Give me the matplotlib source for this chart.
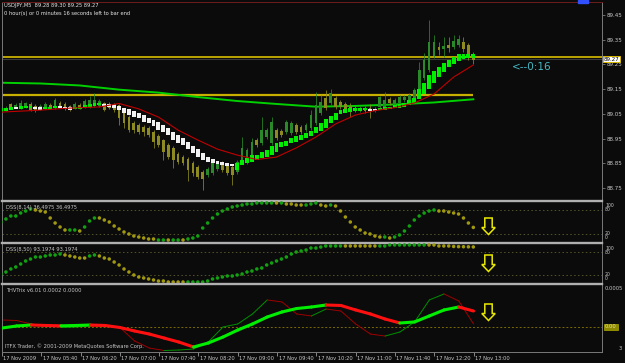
import numpy as np
import matplotlib.pyplot as plt
from matplotlib import font_manager
from matplotlib.collections import LineCollection
from matplotlib.patches import Polygon, Rectangle
from matplotlib.transforms import blended_transform_factory

# ---------------- data ----------------
header_quote = 'USDJPY,M5  89.28 89.30 89.25 89.27'
header_timer = '0 hour(s) or 0 minutes 16 seconds left to bar end'

time_labels = ['17 Nov 2009', '17 Nov 05:40', '17 Nov 06:20', '17 Nov 07:00', '17 Nov 07:40',
               '17 Nov 08:20', '17 Nov 09:00', '17 Nov 09:40', '17 Nov 10:20', '17 Nov 11:00',
               '17 Nov 11:40', '17 Nov 12:20', '17 Nov 13:00']
time_label_bars = [0, 8, 16, 24, 32, 40, 48, 56, 64, 72, 80, 88, 96]
price_ticks = [88.75, 88.85, 88.95, 89.05, 89.15, 89.25, 89.35, 89.45]

open_ = [89.065, 89.065, 89.090, 89.077, 89.073, 89.077, 89.090, 89.082, 89.069, 89.073,
         89.086, 89.073, 89.094, 89.090, 89.082, 89.073, 89.086, 89.077, 89.077, 89.082,
         89.082, 89.094, 89.090, 89.090, 89.086, 89.057, 89.037, 89.013, 89.005, 88.997,
         88.993, 88.976, 88.960, 88.944, 88.924, 88.912, 88.887, 88.875, 88.867, 88.851,
         88.835, 88.814, 88.802, 88.810, 88.827, 88.851, 88.843, 88.835, 88.814, 88.863,
         88.855, 88.875, 88.944, 88.932, 88.956, 88.932, 88.984, 88.980, 88.976, 88.972,
         89.005, 88.997, 88.984, 88.993, 89.013, 89.053, 89.114, 89.094, 89.114, 89.098,
         89.090, 89.077, 89.073, 89.065, 89.073, 89.073, 89.065, 89.077, 89.077, 89.110,
         89.086, 89.094, 89.106, 89.106, 89.114, 89.150, 89.195, 89.227, 89.284, 89.320,
         89.312, 89.329, 89.320, 89.329, 89.341, 89.329, 89.280]
high = [89.106, 89.080, 89.095, 89.092, 89.106, 89.100, 89.096, 89.088, 89.088, 89.096,
        89.092, 89.114, 89.102, 89.096, 89.086, 89.096, 89.092, 89.110, 89.122, 89.134,
        89.110, 89.100, 89.096, 89.094, 89.090, 89.061, 89.045, 89.020, 89.012, 89.003,
        89.000, 88.984, 88.968, 88.950, 88.932, 88.920, 88.895, 88.883, 88.875, 88.860,
        88.843, 88.822, 88.835, 88.860, 88.857, 88.857, 88.850, 88.843, 88.863, 88.956,
        88.912, 88.952, 88.952, 89.037, 88.992, 89.037, 88.992, 88.988, 89.025, 89.020,
        89.012, 89.005, 89.012, 89.065, 89.138, 89.126, 89.146, 89.150, 89.122, 89.106,
        89.098, 89.094, 89.082, 89.082, 89.080, 89.090, 89.077, 89.122, 89.138, 89.118,
        89.114, 89.126, 89.126, 89.134, 89.155, 89.260, 89.296, 89.430, 89.369, 89.341,
        89.361, 89.361, 89.369, 89.369, 89.361, 89.337, 89.300]
low = [89.057, 89.060, 89.068, 89.072, 89.070, 89.073, 89.060, 89.058, 89.064, 89.068,
       89.068, 89.069, 89.073, 89.064, 89.062, 89.068, 89.069, 89.073, 89.073, 89.077,
       89.077, 89.060, 89.068, 89.057, 89.005, 88.993, 88.976, 88.972, 88.968, 88.960,
       88.956, 88.912, 88.916, 88.863, 88.867, 88.830, 88.847, 88.843, 88.778, 88.800,
       88.786, 88.742, 88.794, 88.802, 88.820, 88.815, 88.802, 88.762, 88.806, 88.855,
       88.847, 88.867, 88.916, 88.924, 88.948, 88.924, 88.944, 88.956, 88.968, 88.964,
       88.968, 88.968, 88.976, 88.986, 89.005, 89.045, 89.065, 89.086, 89.069, 89.069,
       89.061, 89.037, 89.057, 89.057, 89.053, 89.033, 89.057, 89.069, 89.069, 89.086,
       89.080, 89.086, 89.100, 89.098, 89.106, 89.142, 89.187, 89.220, 89.276, 89.288,
       89.280, 89.300, 89.312, 89.320, 89.300, 89.268, 89.250]
close = [89.090, 89.073, 89.073, 89.086, 89.094, 89.094, 89.065, 89.065, 89.082, 89.090,
         89.073, 89.106, 89.077, 89.069, 89.069, 89.090, 89.073, 89.102, 89.106, 89.106,
         89.102, 89.065, 89.073, 89.065, 89.033, 89.013, 88.984, 88.984, 88.976, 88.976,
         88.964, 88.936, 88.924, 88.895, 88.875, 88.863, 88.855, 88.851, 88.822, 88.810,
         88.794, 88.786, 88.827, 88.851, 88.851, 88.822, 88.810, 88.802, 88.855, 88.912,
         88.903, 88.936, 88.924, 88.984, 88.984, 89.017, 88.952, 88.964, 89.017, 89.013,
         88.976, 88.976, 89.005, 89.045, 89.086, 89.098, 89.073, 89.134, 89.077, 89.077,
         89.069, 89.065, 89.065, 89.073, 89.061, 89.065, 89.069, 89.118, 89.106, 89.094,
         89.106, 89.118, 89.118, 89.126, 89.146, 89.227, 89.268, 89.341, 89.341, 89.308,
         89.325, 89.316, 89.345, 89.353, 89.312, 89.284, 89.270]

ha_open = [89.057, 89.061, 89.065, 89.078, 89.069, 89.073, 89.074, 89.078, 89.076, 89.069,
           89.070, 89.073, 89.082, 89.078, 89.076, 89.069, 89.070, 89.073, 89.078, 89.082,
           89.086, 89.090, 89.088, 89.084, 89.082, 89.073, 89.069, 89.061, 89.053, 89.045,
           89.033, 89.025, 89.017, 89.005, 88.993, 88.976, 88.964, 88.952, 88.936, 88.920,
           88.907, 88.891, 88.875, 88.867, 88.859, 88.855, 88.851, 88.847, 88.822, 88.843,
           88.851, 88.855, 88.863, 88.871, 88.875, 88.883, 88.895, 88.916, 88.920, 88.932,
           88.936, 88.944, 88.952, 88.960, 88.972, 88.980, 88.993, 89.013, 89.025, 89.049,
           89.053, 89.057, 89.061, 89.061, 89.065, 89.069, 89.069, 89.065, 89.065, 89.069,
           89.073, 89.073, 89.078, 89.086, 89.094, 89.110, 89.130, 89.150, 89.175, 89.199,
           89.219, 89.239, 89.252, 89.264, 89.272, 89.276, 89.276]
ha_close = [89.073, 89.073, 89.078, 89.069, 89.082, 89.082, 89.082, 89.069, 89.065, 89.078,
            89.078, 89.082, 89.073, 89.069, 89.065, 89.078, 89.078, 89.086, 89.090, 89.094,
            89.094, 89.082, 89.078, 89.073, 89.065, 89.053, 89.045, 89.037, 89.033, 89.017,
            89.013, 89.001, 88.984, 88.976, 88.964, 88.944, 88.932, 88.924, 88.907, 88.891,
            88.875, 88.863, 88.855, 88.851, 88.847, 88.843, 88.839, 88.839, 88.851, 88.863,
            88.871, 88.883, 88.883, 88.895, 88.903, 88.920, 88.932, 88.936, 88.940, 88.952,
            88.960, 88.964, 88.972, 88.980, 88.997, 89.013, 89.029, 89.041, 89.053, 89.065,
            89.069, 89.073, 89.073, 89.073, 89.073, 89.061, 89.061, 89.073, 89.078, 89.078,
            89.086, 89.090, 89.094, 89.106, 89.114, 89.150, 89.175, 89.207, 89.223, 89.239,
            89.256, 89.268, 89.280, 89.292, 89.292, 89.292, 89.292]

ma_red_bars = list(range(0, 97, 4))
ma_red = [89.057, 89.061, 89.065, 89.071, 89.075, 89.078, 89.092, 89.070, 89.037, 88.984,
          88.944, 88.907, 88.883, 88.865, 88.875, 88.912, 88.956, 89.009, 89.045, 89.063,
          89.075, 89.094, 89.130, 89.199, 89.248]
ma_green_bars = list(range(0, 97, 8))
ma_green = [89.176, 89.173, 89.165, 89.148, 89.136, 89.118, 89.102, 89.090, 89.079, 89.082,
            89.088, 89.096, 89.109]
level_upper = 89.281
level_lower = 89.126
bid_price = 89.272
bid_label = '89.27'
timer_text = '<--0:16'

dss1 = [50, 57.5, 65, 65, 72.5, 77.5, 82.5, 80, 77.5, 75,
        60, 47.5, 37.5, 30, 30, 30, 27.5, 37.5, 52.5, 60,
        60, 55, 50, 40, 32.5, 25, 20, 15, 12.5, 10,
        7.5, 7.5, 5, 5, 5, 5, 5, 5, 7.5, 10,
        15, 35, 47.5, 60, 70, 77.5, 82.5, 87.5, 90, 92.5,
        95, 95, 97.5, 97.5, 97.5, 97.5, 97.5, 97.5, 95, 95,
        92.5, 92.5, 92.5, 95, 97.5, 92.5, 90, 92.5, 90, 77.5,
        62.5, 50, 37.5, 30, 22.5, 20, 15, 12.5, 12.5, 10,
        12.5, 17.5, 27.5, 40, 55, 65, 72.5, 77.5, 80, 77.5,
        77.5, 75, 72.5, 70, 60, 47.5, 36.5]
dss1_state = ('g' * 7 + 'o' * 7 + 'g' * 2 + 'o' + 'g' * 3 + 'o' * 12 + 'g' * 2 + 'o' + 'g' * 2 + 'o'
              + 'g' * 18 + 'o' + 'g' + 'o' * 4 + 'g' * 3 + 'o' * 2 + 'g' + 'o' * 10 + 'g' + 'o'
              + 'g' * 9 + 'o' * 8)
dss2 = [22.6, 27.8, 35.7, 40.9, 48.7, 56.5, 61.7, 67.0, 67.0, 69.6,
        72.2, 72.2, 74.8, 72.2, 69.6, 67.0, 64.3, 64.3, 69.6, 72.2,
        69.6, 64.3, 61.7, 53.9, 46.1, 35.7, 27.8, 20.0, 14.8, 12.2,
        9.6, 7.0, 4.3, 4.3, 1.7, 1.7, 1.7, 1.7, 1.7, 1.7,
        1.7, 1.7, 4.3, 9.6, 12.2, 14.8, 17.4, 17.4, 20.0, 22.6,
        27.8, 30.4, 35.7, 38.3, 46.1, 51.3, 56.5, 61.7, 67.0, 74.8,
        80.0, 82.6, 85.2, 90.4, 90.4, 93.0, 95.7, 95.7, 95.7, 95.7,
        95.7, 95.7, 95.7, 95.7, 95.7, 95.7, 95.7, 95.7, 95.7, 98.3,
        98.3, 98.3, 98.3, 98.3, 98.3, 98.3, 98.3, 98.3, 98.3, 95.7,
        95.7, 95.7, 94.5, 94.0, 93.8, 93.5, 93.2]
dss2_state = ('g' * 13 + 'o' * 5 + 'g' * 2 + 'o' * 18 + 'g' * 32 + 'o' * 7 + 'g' * 10 + 'o' * 10)

thv_bars = list(range(0, 97, 3))
thv_main = [-0.13, 0.13, 0.25, 0.19, 0.15, 0.19, 0.25, 0.19, -0.06, -0.50, -0.88, -1.38,
            -1.88, -2.50, -2.00, -1.25, -0.38, 0.38, 1.25, 1.88, 2.31, 2.50, 2.75, 2.69,
            2.13, 1.63, 1.00, 0.50, 0.63, 1.38, 2.13, 2.50, 2.00]
thv_signal = [0.88, 0.81, 0.38, 0.13, -0.06, 0.00, 0.13, 0.13, -0.06, -1.75, -2.63, -2.94,
              -2.88, -2.75, -1.88, 0.00, 0.38, 1.63, 3.38, 3.13, 1.63, 1.38, 2.25, 2.00,
              0.38, -0.88, -1.13, -0.63, 0.63, 3.38, 4.13, 3.25, 0.38]

# ---------------- style ----------------
W, H = 625, 363
BG = '#0b0b0b'
TXT = '#c8c8c8'
names = {f.name for f in font_manager.fontManager.ttflist}
small_font = 'Liberation Sans Narrow' if 'Liberation Sans Narrow' in names else 'DejaVu Sans'
FS = 4.3 if small_font != 'DejaVu Sans' else 3.7
plt.rcParams['font.family'] = small_font


def box(x0, y0, x1, y1):
    return [x0 / W, 1 - y1 / H, (x1 - x0) / W, (y1 - y0) / H]


def ftext(x, y, s, **kw):
    fig.text(x / W, 1 - y / H, s, **kw)


fig = plt.figure(figsize=(W / 100, H / 100), dpi=100, facecolor=BG)

ax_main = fig.add_axes(box(2, 2, 602, 201))
ax_d1 = fig.add_axes(box(2, 201, 602, 243))
ax_d2 = fig.add_axes(box(2, 243, 602, 284))
ax_t = fig.add_axes(box(2, 284, 602, 352))
axes = [ax_main, ax_d1, ax_d2, ax_t]

xlim = ((2 - 1) / 4.92, (602 - 1) / 4.92)
for ax in axes:
    ax.set_facecolor(BG)
    ax.set_xlim(*xlim)
    ax.set_xticks([])
    ax.set_yticks([])
    for s in ax.spines.values():
        s.set_color('#7a7a7a')
        s.set_linewidth(0.7)
    ax.spines['bottom'].set_visible(False)
for ax in axes[1:]:
    ax.spines['top'].set_color('#b0b0b0')
    ax.spines['top'].set_linewidth(1.7)
ax_main.spines['top'].set_color('#6e1c1c')
ax_t.spines['bottom'].set_visible(True)

x = np.arange(len(close))
o = np.array(open_); c = np.array(close); h = np.array(high); l = np.array(low)

# ---- main chart ----
up = c >= o
cand_col = np.where(up, '#2a8a2a', '#8c8a20')
ax_main.vlines(x, l, h, colors=cand_col, linewidth=0.55, zorder=2)
ax_main.bar(x, np.maximum(np.abs(c - o), 0.002), bottom=np.minimum(o, c), width=0.55,
            color=cand_col, linewidth=0, zorder=2)

hao = np.array(ha_open); hac = np.array(ha_close)
ha_col = np.where(hac >= hao, '#00ee00', '#f2f2f2')
ax_main.bar(x, np.maximum(np.abs(hac - hao), 0.003), bottom=np.minimum(hao, hac), width=0.8,
            color=ha_col, linewidth=0, zorder=3)

ax_main.plot(ma_red_bars, ma_red, color='#c00000', lw=0.8, zorder=4)
ax_main.plot(ma_green_bars, ma_green, color='#00d000', lw=1.4, zorder=1.8)
ax_main.axhline(level_upper, color='#c8b000', lw=1.3, zorder=1.5)
ax_main.hlines(level_lower, xlim[0], x[-1], color='#c8b000', lw=1.6, zorder=1.5)
ax_main.axhline(bid_price, color='#3a3a3a', lw=0.8, zorder=1.2)
ax_main.set_ylim(88.697, 89.503)

ax_main.yaxis.tick_right()
ax_main.set_yticks(price_ticks)
ax_main.set_yticklabels(['%.2f' % p for p in price_ticks])
ax_main.tick_params(axis='y', colors='#7a7a7a', labelcolor=TXT, labelsize=FS + 0.3, length=2,
                    width=0.6, pad=1.5)
ax_main.text(1.003, bid_price, bid_label, transform=blended_transform_factory(ax_main.transAxes, ax_main.transData),
             fontsize=FS + 0.3, color='black', va='center', ha='left', zorder=10, clip_on=False,
             bbox=dict(boxstyle='square,pad=0.12', fc='white', ec='#d8b800', lw=0.7))

ax_main.text(512 / 600 - 2 / 600, 1 - (67 - 2) / 199, timer_text, transform=ax_main.transAxes,
             color='#44b8c4', fontsize=7.5, family='DejaVu Sans', va='center', ha='left')
ftext(4, 6, header_quote, color='#e6e6e6', fontsize=FS, va='center')
ftext(4, 14, header_timer, color='#e6e6e6', fontsize=FS, va='center')
fig.patches.append(Rectangle((578 / W, 1 - 3 / H), 10 / W, 3 / H, transform=fig.transFigure,
                             color='#3050ff', zorder=5))

# ---- DSS panels ----
pal = {'g': '#12a012', 'o': '#a09810'}
for ax, vals, state, lim, name in [
        (ax_d1, dss1, dss1_state, (-2.5, 102.5), 'DSS(8,14) 36.4975 36.4975'),
        (ax_d2, dss2, dss2_state, (-3.5, 103.5), 'DSS(8,50) 93.1974 93.1974')]:
    ax.set_ylim(*lim)
    for lev in (80, 20):
        ax.axhline(lev, color='#55552a', lw=0.7, ls=(0, (1.5, 2.5)), zorder=1)
    ax.scatter(x, vals, s=6.5, c=[pal[k] for k in state], linewidths=0, zorder=3)
    ax.text(4 / 600, 1 - 6 / 41, name, transform=ax.transAxes, color=TXT, fontsize=FS, va='center')

for y0, top_lab, bot_lab in [(201, 206, 237.5), (243, 248, 279)]:
    ftext(605, top_lab, '100', color=TXT, fontsize=FS - 0.4, va='center')
    ftext(605, top_lab + 4, '80', color=TXT, fontsize=FS - 0.4, va='center')
    ftext(605, bot_lab - 4, '20', color=TXT, fontsize=FS - 0.4, va='center')
    ftext(605, bot_lab, '0', color=TXT, fontsize=FS - 0.4, va='center')

# ---- THV Trix panel ----
ax_t.set_ylim(-3.125e-4, 5.375e-4)
ax_t.axhline(0, color='#7a6a00', lw=0.7, ls=(0, (2, 2)), zorder=1)


def colored_line(ax, xs, ys, col_up, col_dn, lw, z):
    pts = np.column_stack([xs, ys])
    segs = np.stack([pts[:-1], pts[1:]], axis=1)
    cols = [col_up if b > a else col_dn for a, b in zip(ys[:-1], ys[1:])]
    ax.add_collection(LineCollection(segs, colors=cols, linewidths=lw, capstyle='round', zorder=z))


colored_line(ax_t, thv_bars, np.array(thv_signal) * 1e-4, '#009000', '#a00000', 0.7, 2)
colored_line(ax_t, thv_bars, np.array(thv_main) * 1e-4, '#00ee00', '#ff1010', 2.2, 3)
ax_t.text(4 / 600, 1 - 6 / 68, 'THVTrix v6.01 0.0002 0.0000', transform=ax_t.transAxes,
          color=TXT, fontsize=FS, va='center')
ax_t.text(3 / 600, 1 - 62 / 68, 'ITFX Trader, \u00a9 2001-2009 MetaQuotes Software Corp.',
          transform=ax_t.transAxes, color=TXT, fontsize=FS, va='center')
ftext(605, 289, '0.0005', color=TXT, fontsize=FS, va='center')
ftext(605, 327, '0.00', color='#e8e8a0', fontsize=FS, va='center',
      bbox=dict(boxstyle='square,pad=0.15', fc='#8c8800', ec='#b0a800', lw=0.5))
ftext(619, 348, '3', color=TXT, fontsize=FS, va='center')

# time axis
ax_t.set_xticks(time_label_bars)
ax_t.set_xticklabels([])
ax_t.tick_params(axis='x', colors='#9a9a9a', length=3, width=0.6, direction='out')
tb = blended_transform_factory(ax_t.transData, fig.transFigure)
for b, lab in zip(time_label_bars, time_labels):
    ax_t.text(b + 0.3, 1 - 358 / H, lab, transform=tb, color=TXT, fontsize=FS,
              va='center', ha='left', clip_on=False)

# warning arrows
for y0 in (218, 255, 304):
    xc = 488.5
    pts = [(xc - 3.7, y0), (xc + 3.7, y0), (xc + 3.7, y0 + 9.5), (xc + 6.7, y0 + 9.5),
           (xc, y0 + 16.5), (xc - 6.7, y0 + 9.5), (xc - 3.7, y0 + 9.5)]
    fig.patches.append(Polygon([(px / W, 1 - py / H) for px, py in pts], closed=True,
                               transform=fig.transFigure, fill=False, ec='#e8e800', lw=1.1,
                               zorder=6))

fig.savefig('out.png', dpi=100, facecolor=BG)
